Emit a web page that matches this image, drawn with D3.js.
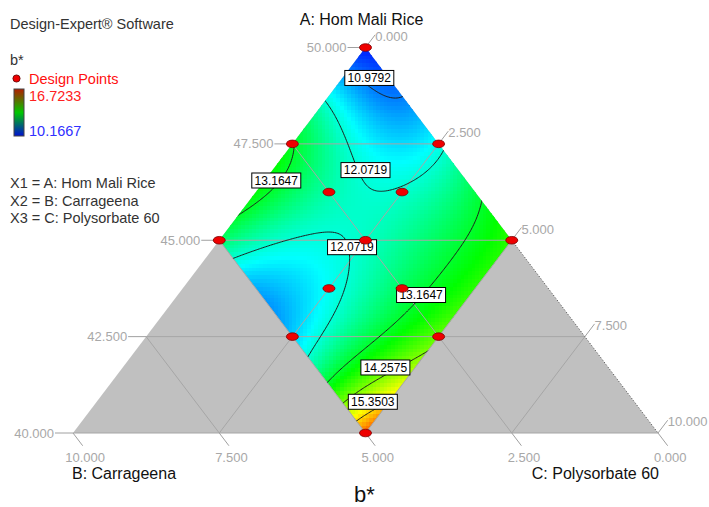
<!DOCTYPE html>
<html>
<head>
<meta charset="utf-8">
<script src="https://cdn.jsdelivr.net/npm/d3@7"></script>
<style>
  body { margin: 0; background: #fff; }
  svg { display: block; font-family: "Liberation Sans", Arial, sans-serif; }
</style>
</head>
<body>
<svg id="chart" width="709" height="507"></svg>
<script>
// ---- mixture components (A + B + C = 50) ----
const axisTitles = ["A: Hom Mali Rice", "B: Carrageena", "C: Polysorbate 60"];
const factorLegend = ["X1 = A: Hom Mali Rice", "X2 = B: Carrageena", "X3 = C: Polysorbate 60"];
const aTicks = [40, 42.5, 45, 47.5, 50];
const bTicks = [0, 2.5, 5, 7.5, 10];
const cTicks = [0, 2.5, 5, 7.5, 10];
const gridLevels = [2.5, 5, 7.5];

// ---- response b* ----
const responseRange = [10.1667, 16.7233];
const contourLevels = [10.9792, 12.0719, 13.1647, 14.2575, 15.3503];

// design points (B, C); A = 50 - B - C
const designB = [0, 2.5, 0, 2.5, 1.25, 5, 2.5, 0, 3.75, 2.5, 5, 2.5, 5];
const designC = [0, 0, 2.5, 1.25, 2.5, 0, 2.5, 5, 2.5, 3.75, 2.5, 5, 5];

// b* readings over the constrained region (B, C, b*), used to fit the response surface
const sampleB = [0, 0.75, 1.285, 2.45, 3.5, 4.575, 5, 0, 0, 0, 0, 0,
  5, 5, 5, 5, 5, 5, 5, 1.25, 2.5, 2.8, 3.75, 4.325,
  0.425, 0.17, 1.335, 1.515, 1.67, 1.76, 1.735, 1.48, 0.95, 0.395,
  2.475, 2.875, 3.25, 3.74,
  4.51, 3.47, 2.815, 2.905, 3.19, 3.8, 4.285,
  0.2, 0.795, 1.69, 2.29, 3.335, 4.355,
  3.925, 3.29, 4.65,
  0.75, 1.5, 1, 0.5, 2, 2.5, 2.5, 2.25, 2.5, 4.5, 4, 4, 3.5, 1.5, 1, 2.5, 3.5, 4.5, 0.5, 3, 4.25, 2, 3, 4.5, 0.5, 1.75,
  4.75, 5];
const sampleC = [0, 0, 0, 0, 0, 0, 0, 1.35, 2.7, 3.25, 3.95, 5,
  0.5, 1.5, 3.0, 3.7, 4.275, 4.65, 5, 5, 5, 5, 5, 5,
  0.575, 1.01, 0.465, 0.885, 1.245, 1.675, 1.99, 2.215, 2.48, 2.6,
  0.135, 0.225, 0.2, 0.135,
  0.665, 1.575, 2.05, 2.475, 2.66, 2.93, 2.97,
  4.0, 4.195, 4.34, 4.26, 4.07, 3.825,
  4.52, 4.815, 4.825,
  1.5, 1.5, 1, 2.0, 0.5, 1.0, 1.5, 2.1, 2.5, 1.75, 2, 2.5, 2.25, 3, 4, 4, 3.5, 4.5, 3, 0.5, 0.5, 3.5, 3, 3.5, 4.5, 4.75,
  0.6, 0.25];
const sampleY = [10.4, 10.98, 12.07, 13.16, 13.42, 13.16, 12.7, 10.98, 12.07, 12.55, 13.16, 13.7,
  12.07, 11.1, 12.07, 13.16, 14.26, 15.35, 16.2, 13.75, 14.05, 14.26, 14.95, 15.35,
  10.98, 10.98, 12.07, 12.07, 12.07, 12.07, 12.07, 12.07, 12.07, 12.07,
  13.16, 13.16, 13.16, 13.16,
  12.07, 12.07, 12.07, 12.07, 12.07, 12.07, 12.07,
  13.16, 13.16, 13.16, 13.16, 13.16, 13.16,
  14.26, 14.26, 15.35,
  11.5, 11.85, 11.5, 11.65, 12.6, 12.45, 12.3, 12.15, 12.12, 11.5, 11.6, 11.85, 11.9, 12.5, 13.0, 13.1, 12.6, 14.6, 12.3, 12.95, 12.6, 12.75, 12.3, 12.8, 13.4, 13.55,
  12.07, 12.45];

// contour label anchors (level index, B, C)
const labelLevel = [0, 1, 2, 1, 2, 3, 4];
const labelB = [0.33, 1.59, 3.25, 2.82, 2.26, 3.81, 4.47];
const labelC = [0.46, 1.59, 0.2, 2.36, 4.16, 4.49, 4.72];

// ---- polynomial response surface in pseudo coordinates ----
const DEG = 5;
function basis(B, C) {
  const x = B / 5 - 0.5, y = C / 5 - 0.5, t = [];
  for (let d = 0; d <= DEG; d++)
    for (let i = 0; i <= d; i++) t.push(Math.pow(x, d - i) * Math.pow(y, i));
  return t;
}
function solve(M, r) {
  const n = r.length, A = M.map((row, i) => row.concat([r[i]]));
  for (let c = 0; c < n; c++) {
    let p = c;
    for (let k = c + 1; k < n; k++) if (Math.abs(A[k][c]) > Math.abs(A[p][c])) p = k;
    [A[c], A[p]] = [A[p], A[c]];
    for (let k = c + 1; k < n; k++) {
      const f = A[k][c] / A[c][c];
      for (let j = c; j <= n; j++) A[k][j] -= f * A[c][j];
    }
  }
  const s = new Array(n).fill(0);
  for (let c = n - 1; c >= 0; c--) {
    let v = A[c][n];
    for (let j = c + 1; j < n; j++) v -= A[c][j] * s[j];
    s[c] = v / A[c][c];
  }
  return s;
}
const nTerms = basis(0, 0).length;
const M = Array.from({length: nTerms}, () => new Array(nTerms).fill(0));
const rhs = new Array(nTerms).fill(0);
sampleY.forEach((yv, k) => {
  const phi = basis(sampleB[k], sampleC[k]);
  for (let i = 0; i < nTerms; i++) {
    rhs[i] += phi[i] * yv;
    for (let j = 0; j < nTerms; j++) M[i][j] += phi[i] * phi[j];
  }
});
for (let i = 1; i < nTerms; i++) M[i][i] += 1e-5;
const coef = solve(M, rhs);
const bstar = (B, C) => d3.sum(basis(B, C), (t, i) => t * coef[i]);

// ---- scales: horizontal position follows C - B, vertical follows A ----
const xScale = d3.scaleLinear().domain([-10, 10]).range([73, 658]);
const yScale = d3.scaleLinear().domain([40, 50]).range([433, 47.5]);
const proj = (B, C) => [xScale(C - B), yScale(50 - B - C)];
const fmt = d3.format(".3f");

const [lo, hi] = responseRange;
const color = d3.scaleLinear()
  .domain(d3.range(5).map(i => lo + i * (hi - lo) / 4))
  .range(["#0000ff", "#00ffff", "#00ff00", "#ffff00", "#ff0000"])
  .clamp(true);

const svg = d3.select("#chart");
const defs = svg.append("defs");

// constrained region B <= 5, C <= 5
const region = [[0, 0], [5, 0], [5, 5], [0, 5]].map(([b, c]) => proj(b, c));
defs.append("clipPath").attr("id", "region")
  .append("path").attr("d", "M" + region.join("L") + "Z");

const grad = defs.append("linearGradient").attr("id", "bar")
  .attr("x1", 0).attr("y1", 0).attr("x2", 0).attr("y2", 1);
[["0%", "#b41e00"], ["50%", "#00c800"], ["100%", "#0010d2"]].forEach(([o, c]) =>
  grad.append("stop").attr("offset", o).attr("stop-color", c));

// full simplex
const tri = [[0, 0], [10, 0], [0, 10]].map(([b, c]) => proj(b, c));
svg.append("path").attr("d", "M" + tri.join("L") + "Z").attr("fill", "#c0c0c0");

// response surface cells
const dStep = 0.125, aStep = 0.1;
const cells = [];
for (let d = -5 + dStep / 2; d < 5; d += dStep)
  for (let a = 40 + aStep / 2; a < 50; a += aStep) {
    const C = (50 - a + d) / 2, B = (50 - a - d) / 2;
    if (B < -0.3 || C < -0.3 || B > 5.3 || C > 5.3) continue;
    cells.push({d, a, v: bstar(Math.min(5, Math.max(0, B)), Math.min(5, Math.max(0, C)))});
  }
svg.append("g").attr("clip-path", "url(#region)").attr("shape-rendering", "crispEdges")
  .selectAll("rect").data(cells).join("rect")
  .attr("x", c => xScale(c.d - dStep / 2))
  .attr("y", c => yScale(c.a + aStep / 2))
  .attr("width", xScale(dStep) - xScale(0) + 0.4)
  .attr("height", yScale(40) - yScale(40 + aStep) + 0.4)
  .attr("fill", c => color(c.v));

// ternary grid lines
const grid = svg.append("g").attr("stroke", "#a6a6a6").attr("stroke-width", 1).attr("fill", "none");
const seg = (p, q) => grid.append("line").attr("x1", p[0]).attr("y1", p[1]).attr("x2", q[0]).attr("y2", q[1]);
gridLevels.forEach(g => {
  seg(proj(10 - g, 0), proj(0, 10 - g));   // A = 40 + g
  seg(proj(g, 0), proj(g, 10 - g));        // B = g
  seg(proj(0, g), proj(10 - g, g));        // C = g
});
seg(proj(10, 0), proj(0, 10));
svg.append("line")
  .attr("x1", proj(0, 5)[0]).attr("y1", proj(0, 5)[1])
  .attr("x2", proj(0, 10)[0]).attr("y2", proj(0, 10)[1])
  .attr("stroke", "#444").attr("stroke-dasharray", "1,2");

// axis ticks and labels
const tickCol = "#a0a0a0", labCol = "#a8a8a8";
const axes = svg.append("g").attr("font-size", 13).attr("fill", labCol);
const ux = 0.6047, uy = 0.7966, tl = 16;
aTicks.forEach(a => {
  const [x, y] = proj(50 - a, 0);
  axes.append("line").attr("x1", x).attr("y1", y).attr("x2", x - 18).attr("y2", y).attr("stroke", tickCol);
  axes.append("text").attr("x", x - 19).attr("y", y + 4.5).attr("text-anchor", "end").text(fmt(a));
});
bTicks.forEach(b => {
  const [x, y] = proj(b, 10 - b);
  const ex = x + ux * tl, ey = y + uy * tl;
  axes.append("line").attr("x1", x).attr("y1", y).attr("x2", ex).attr("y2", ey).attr("stroke", tickCol);
  axes.append("text").attr("x", ex + 2.5).attr("y", ey + 16).attr("text-anchor", "middle").text(fmt(b));
});
cTicks.forEach(c => {
  const [x, y] = proj(0, c);
  const ex = x + ux * tl, ey = y - uy * tl;
  axes.append("line").attr("x1", x).attr("y1", y).attr("x2", ex).attr("y2", ey).attr("stroke", tickCol);
  axes.append("text").attr("x", ex).attr("y", ey + 6).text(fmt(c));
});

// contour lines
const N = 161, u0 = -0.03, u1 = 1.03;
const gu = i => u0 + i * (u1 - u0) / (N - 1);
const values = new Array(N * N);
for (let j = 0; j < N; j++)
  for (let i = 0; i < N; i++) values[j * N + i] = bstar(5 * gu(i), 5 * gu(j));
const contours = d3.contours().size([N, N]).thresholds(contourLevels)(values);
const toScreen = d3.geoTransform({
  point(px, py) {
    const p = proj(5 * gu(px - 0.5), 5 * gu(py - 0.5));
    this.stream.point(p[0], p[1]);
  }
});
svg.append("g").attr("clip-path", "url(#region)")
  .selectAll("path").data(contours).join("path")
  .attr("d", d3.geoPath(toScreen))
  .attr("fill", "none").attr("stroke", "#1e1e1e").attr("stroke-width", 1);

// contour labels
const labels = svg.append("g").attr("font-size", 12);
labelLevel.forEach((li, k) => {
  const [x, y] = proj(labelB[k], labelC[k]);
  labels.append("rect").attr("x", x - 24.5).attr("y", y - 7.5).attr("width", 49).attr("height", 15)
    .attr("fill", "#fff").attr("stroke", "#000").attr("stroke-width", 1);
  labels.append("text").attr("x", x).attr("y", y + 4.3).attr("text-anchor", "middle")
    .attr("fill", "#000").text(d3.format(".4f")(contourLevels[li]));
});

// design points
svg.append("g").selectAll("ellipse").data(designB).join("ellipse")
  .attr("cx", (b, i) => proj(b, designC[i])[0])
  .attr("cy", (b, i) => proj(b, designC[i])[1])
  .attr("rx", 6).attr("ry", 3.8)
  .attr("fill", "#ee0000").attr("stroke", "#7a0000").attr("stroke-width", 0.8);

// titles
const [ax, ay] = proj(0, 0);
svg.append("text").attr("x", ax - 4).attr("y", 25).attr("text-anchor", "middle")
  .attr("font-size", 16).attr("fill", "#111").text(axisTitles[0]);
svg.append("text").attr("x", proj(10, 0)[0] - 1).attr("y", 479)
  .attr("font-size", 16).attr("fill", "#111").text(axisTitles[1]);
svg.append("text").attr("x", proj(0, 10)[0] + 1).attr("y", 479).attr("text-anchor", "end")
  .attr("font-size", 16).attr("fill", "#111").text(axisTitles[2]);
svg.append("text").attr("x", ax - 1).attr("y", 502).attr("text-anchor", "middle")
  .attr("font-size", 22).attr("fill", "#111").text("b*");

// legend
const leg = svg.append("g").attr("font-size", 14.5);
leg.append("text").attr("x", 10).attr("y", 29).attr("fill", "#333").text("Design-Expert® Software");
leg.append("text").attr("x", 10).attr("y", 65).attr("fill", "#333").text("b*");
leg.append("circle").attr("cx", 16.5).attr("cy", 78.5).attr("r", 3.6)
  .attr("fill", "#ee0000").attr("stroke", "#5a0000").attr("stroke-width", 0.8);
leg.append("text").attr("x", 29).attr("y", 83.5).attr("fill", "#ff1010").text("Design Points");
leg.append("rect").attr("x", 14).attr("y", 89).attr("width", 10).attr("height", 47)
  .attr("fill", "url(#bar)").attr("stroke", "#444").attr("stroke-width", 1);
leg.append("text").attr("x", 29).attr("y", 101).attr("fill", "#ff2020").text(d3.format(".4f")(hi));
leg.append("text").attr("x", 29).attr("y", 135.5).attr("fill", "#3030ff").text(d3.format(".4f")(lo));
factorLegend.forEach((t, i) =>
  leg.append("text").attr("x", 10).attr("y", 188 + i * 17.5).attr("fill", "#333").text(t));
</script>
</body>
</html>
